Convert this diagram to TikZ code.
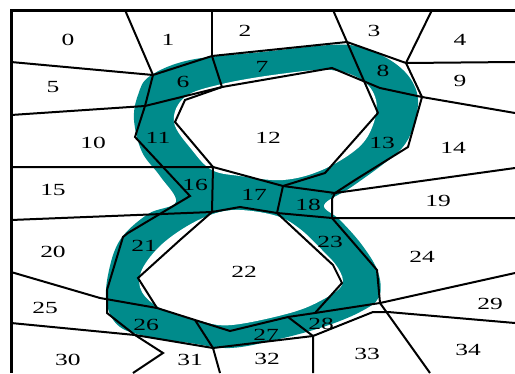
\documentclass[tikz,border=0pt]{standalone}
\usepackage{fontspec}
\setmainfont{Liberation Serif}
\definecolor{tealband}{RGB}{0,139,139}
\begin{document}
\begin{tikzpicture}[x=1pt,y=-1pt,
  edge/.style={line width=2pt,line join=miter,line cap=butt},
  frame/.style={line width=3pt},
  lbl/.style={font=\fontsize{17}{17}\selectfont,inner sep=0pt,xscale=1.5}]
\useasboundingbox (0,0) rectangle (515,373);
% ---- teal figure eight ----
\fill[tealband] plot[smooth cycle,tension=0.6] coordinates {
 (150,76) (190,60) (262,52) (330,45) (360,47) (390,60) (410,78) (418,100)
 (413,128) (402,148) (382,165) (350,188) (324,205) (340,220) (362,245)
 (378,272) (379,297) (360,312) (323,327) (275,340) (230,348) (190,343)
 (150,337) (120,327) (107,305) (108,275) (120,240) (148,214) (176,202)
 (160,176) (142,152) (134,120) (138,95)};
\fill[white] plot[smooth cycle,tension=0.6] coordinates {
 (185,97) (222,84) (280,74) (330,70) (362,80) (376,100) (373,125)
 (358,148) (322,170) (283,180) (240,176) (212,170) (192,150) (174,122)};
\fill[white] plot[smooth cycle,tension=0.6] coordinates {
 (213,214) (240,210) (277,216) (300,229) (322,250) (338,268) (342,285)
 (322,300) (290,313) (232,325) (200,321) (162,309) (142,292) (141,272)
 (158,248) (184,228)};
% ---- points ----
\coordinate (p01t) at (125,10);  \coordinate (A) at (153,75);
\coordinate (p12t) at (212,10);  \coordinate (Q) at (212,56);
\coordinate (p23t) at (333,10);  \coordinate (R) at (347,42);
\coordinate (p34t) at (432,10);  \coordinate (S) at (406,63);
\coordinate (T) at (422,97);
\coordinate (l0) at (11,62);     \coordinate (l5) at (11,115);
\coordinate (l10) at (11,167);   \coordinate (l15) at (11,220);
\coordinate (l20) at (11,272);   \coordinate (l25) at (11,323);
\coordinate (B) at (145,106);    \coordinate (C) at (135,137);
\coordinate (U0) at (222,87);    \coordinate (U1) at (332,68);
\coordinate (U2) at (380,88);
\coordinate (r9) at (515,62);    \coordinate (r14) at (515,113);
\coordinate (T2) at (408,147);   \coordinate (T3) at (355,180);
\coordinate (V) at (335,193);    \coordinate (r19) at (515,168);
\coordinate (W) at (283,186);    \coordinate (I13) at (325,173);
\coordinate (M13) at (378,113);
\coordinate (V2) at (332,199);   \coordinate (X) at (332,218);
\coordinate (r24) at (515,218);  \coordinate (Y) at (277,213);
\coordinate (Z) at (213,167);    \coordinate (Z2) at (212,212);
\coordinate (K17) at (240,207);
\coordinate (H12a) at (185,100); \coordinate (H12b) at (175,122);
\coordinate (O16) at (190,196);  \coordinate (O21a) at (128,233);
\coordinate (O21b) at (123,237); \coordinate (O21c) at (107,290);
\coordinate (O26) at (107,313);  \coordinate (E) at (135,335);
\coordinate (O30) at (163,353);  \coordinate (b30) at (133,373);
\coordinate (F) at (213,348);    \coordinate (b31) at (220,373);
\coordinate (G) at (313,336);    \coordinate (b32) at (313,373);
\coordinate (H) at (288,317);    \coordinate (N28) at (373,312);
\coordinate (N29) at (388,312);  \coordinate (r29) at (515,323);
\coordinate (J) at (380,303);    \coordinate (b33) at (430,373);
\coordinate (r24b) at (515,273); \coordinate (M23) at (377,270);
\coordinate (I23a) at (333,265); \coordinate (I23b) at (342,283);
\coordinate (I23c) at (315,313);
\coordinate (L1) at (100,298);   \coordinate (L2) at (157,308);
\coordinate (L3) at (230,331);   \coordinate (K26) at (195,320);
\coordinate (I21a) at (180,240); \coordinate (I21b) at (138,278);
% ---- boundaries ----
\draw[edge] (p01t) -- (A);
\draw[edge] (p12t) -- (Q);
\draw[edge] (p23t) -- (R) -- (M13);
\draw[edge] (p34t) -- (S);
\draw[edge] (l0) -- (A) -- (Q) -- (R) -- (S) -- (r9);
\draw[edge] (A) -- (B) -- (C) -- (O16) -- (O21a) -- (O21b) -- (O21c) -- (O26) -- (E) -- (O30) -- (b30);
\draw[edge] (l5) -- (B) -- (U0) -- (U1) -- (U2) -- (T) -- (r14);
\draw[edge] (Q) -- (U0) -- (H12a) -- (H12b) -- (Z) -- (W) -- (I13) -- (M13);
\draw[edge] (S) -- (T) -- (T2) -- (T3) -- (V) -- (r19);
\draw[edge] (W) -- (V);
\draw[edge] (V) -- (V2) -- (X) -- (r24);
\draw[edge] (W) -- (Y) -- (X);
\draw[edge] (l10) -- (Z) -- (Z2) -- (K17) -- (Y) -- (I23a) -- (I23b) -- (I23c);
\draw[edge] (l15) -- (Z2) -- (I21a) -- (I21b) -- (L2);
\draw[edge] (l20) -- (L1) -- (L2) -- (K26) -- (L3) -- (H) -- (I23c) -- (J) -- (r24b);
\draw[edge] (X) -- (M23) -- (J) -- (b33);
\draw[edge] (K26) -- (F) -- (b31);
\draw[edge] (l25) -- (E) -- (F) -- (G) -- (b32);
\draw[edge] (H) -- (G) -- (N28) -- (N29) -- (r29);
\draw[frame] (515,10.5) coordinate (fr) -- (11,10.5) coordinate (fc) -- (11,373) coordinate (fb);
% ---- labels ----
\node[lbl] (n0) at (68,40) {0};
\node[lbl] (n1) at (168,40) {1};
\node[lbl] (n2) at (245,31) {2};
\node[lbl] (n3) at (374,31) {3};
\node[lbl] (n4) at (460,40) {4};
\node[lbl] (n5) at (53,87) {5};
\node[lbl] (n6) at (183,82) {6};
\node[lbl] (n7) at (262,67) {7};
\node[lbl] (n8) at (383,71) {8};
\node[lbl] (n9) at (460,81) {9};
\node[lbl] (n10) at (93,143) {10};
\node[lbl] (n11) at (158,138) {11};
\node[lbl] (n12) at (268,138) {12};
\node[lbl] (n13) at (382,143) {13};
\node[lbl] (n14) at (453,148) {14};
\node[lbl] (n15) at (53,190) {15};
\node[lbl] (n16) at (195,185) {16};
\node[lbl] (n17) at (254,195) {17};
\node[lbl] (n18) at (308,205) {18};
\node[lbl] (n19) at (438,201) {19};
\node[lbl] (n20) at (53,252) {20};
\node[lbl] (n21) at (144,246) {21};
\node[lbl] (n22) at (244,272) {22};
\node[lbl] (n23) at (330,242) {23};
\node[lbl] (n24) at (422,257) {24};
\node[lbl] (n25) at (45,308) {25};
\node[lbl] (n26) at (146,325) {26};
\node[lbl] (n27) at (266,335) {27};
\node[lbl] (n28) at (321,324) {28};
\node[lbl] (n29) at (490,304) {29};
\node[lbl] (n30) at (68,360) {30};
\node[lbl] (n31) at (190,360) {31};
\node[lbl] (n32) at (267,359) {32};
\node[lbl] (n33) at (367,354) {33};
\node[lbl] (n34) at (468,350) {34};
\end{tikzpicture}
\end{document}
